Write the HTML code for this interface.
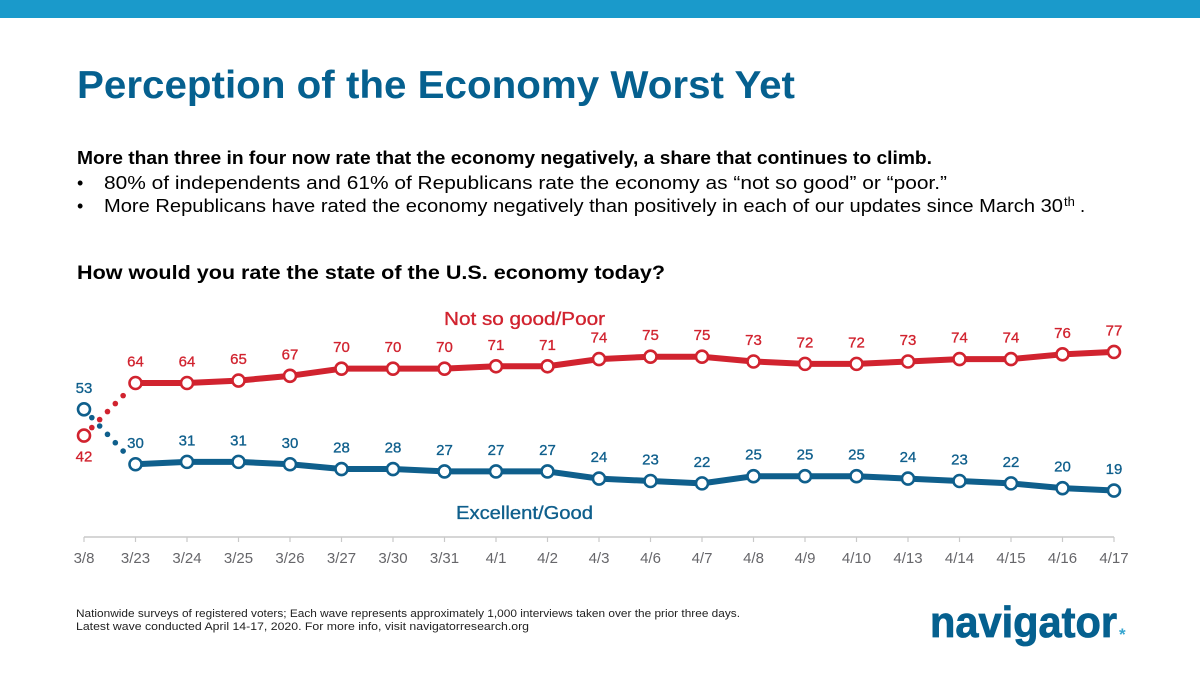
<!DOCTYPE html>
<html lang="en">
<head>
<meta charset="utf-8">
<title>Perception of the Economy Worst Yet</title>
<style>
html,body{margin:0;padding:0;background:#fff;width:1200px;height:674px;overflow:hidden}
svg{display:block}
text{font-family:"Liberation Sans",sans-serif}
</style>
</head>
<body>
<svg id="slide" xmlns="http://www.w3.org/2000/svg" width="1200" height="674" viewBox="0 0 1200 674">
  <rect x="0" y="0" width="1200" height="18" fill="#1a9acb"/>
  <text x="77" y="98" font-size="39" font-weight="700" fill="#05608f" textLength="718" lengthAdjust="spacingAndGlyphs">Perception of the Economy Worst Yet</text>
  <text x="77" y="164" font-size="18.5" font-weight="700" fill="#000" textLength="855" lengthAdjust="spacingAndGlyphs">More than three in four now rate that the economy negatively, a share that continues to climb.</text>
  <text x="77" y="189" font-size="18" fill="#000">•</text>
  <text x="104" y="189" font-size="18.5" fill="#000" textLength="843" lengthAdjust="spacingAndGlyphs">80% of independents and 61% of Republicans rate the economy as “not so good” or “poor.”</text>
  <text x="77" y="212" font-size="18" fill="#000">•</text>
  <text x="104" y="212" font-size="18.5" fill="#000" textLength="959" lengthAdjust="spacingAndGlyphs">More Republicans have rated the economy negatively than positively in each of our updates since March 30</text>
  <text x="1064" y="206" font-size="13" fill="#000">th</text>
  <text x="1080" y="212" font-size="18.5" fill="#000">.</text>
  <text x="77" y="279" font-size="19.5" font-weight="700" fill="#000" textLength="588" lengthAdjust="spacingAndGlyphs">How would you rate the state of the U.S. economy today?</text>

  <g id="chart"></g>

  <text x="444" y="325" font-size="18.5" fill="#d1232f" stroke="#d1232f" stroke-width="0.35" textLength="161" lengthAdjust="spacingAndGlyphs">Not so good/Poor</text>
  <text x="456" y="519" font-size="18.5" fill="#0f5f8c" stroke="#0f5f8c" stroke-width="0.35" textLength="137" lengthAdjust="spacingAndGlyphs">Excellent/Good</text>

  <text x="76" y="617" font-size="11.3" fill="#222" textLength="664" lengthAdjust="spacingAndGlyphs">Nationwide surveys of registered voters; Each wave represents approximately 1,000 interviews taken over the prior three days.</text>
  <text x="76" y="630" font-size="11.3" fill="#222" textLength="453" lengthAdjust="spacingAndGlyphs">Latest wave conducted April 14-17, 2020. For more info, visit navigatorresearch.org</text>

  <text x="930" y="637" font-size="44" font-weight="700" fill="#05608f" stroke="#05608f" stroke-width="0.8" textLength="187" lengthAdjust="spacingAndGlyphs">navigator</text>
  <text x="1119" y="640" font-size="17" font-weight="700" fill="#35a5d0">*</text>
</svg>
<script>
var categories = ["3/8","3/23","3/24","3/25","3/26","3/27","3/30","3/31","4/1","4/2","4/3","4/6","4/7","4/8","4/9","4/10","4/13","4/14","4/15","4/16","4/17"];
var notSoGoodPoor = [42,64,64,65,67,70,70,70,71,71,74,75,75,73,72,72,73,74,74,76,77];
var excellentGood = [53,30,31,31,30,28,28,27,27,27,24,23,22,25,25,25,24,23,22,20,19];

var NS = 'http://www.w3.org/2000/svg';
var chart = document.getElementById('chart');
var RED = '#d1232f';
var BLUE = '#0f5f8c';
var AXIS_Y = 537;

function xScale(i) {
  return 84 + i * (1114 - 84) / (categories.length - 1);
}
function yScale(v) {
  return 383 - (v - 64) * 2.39;
}
function make(tag, attrs, parent) {
  var el = document.createElementNS(NS, tag);
  for (var k in attrs) {
    el.setAttribute(k, attrs[k]);
  }
  (parent || chart).appendChild(el);
  return el;
}

// x axis
var axisLine = make('line', {x1: xScale(0), x2: xScale(categories.length - 1), y1: AXIS_Y, y2: AXIS_Y, stroke: '#c9c9c9', 'stroke-width': 1.6});


categories.forEach(function (c, i) {
  var tick = make('line', {x1: xScale(i), x2: xScale(i), y1: AXIS_Y, y2: AXIS_Y + 5, stroke: '#c9c9c9', 'stroke-width': 1.2});
  
  
  var label = make('text', {x: xScale(i), y: 563, 'text-anchor': 'middle', 'font-size': 15, fill: '#66666a'});
  
  
  label.textContent = c;
});

function drawSeries(values, color, key, firstLabelBelow) {
  // dotted connector from the first wave to the second
  var x0 = xScale(0), y0 = yScale(values[0]);
  var x1 = xScale(1), y1 = yScale(values[1]);
  for (var d = 1; d <= 5; d++) {
    var t = d * 0.152;
    var dot = make('circle', {cx: x0 + (x1 - x0) * t, cy: y0 + (y1 - y0) * t, r: 2.8, fill: color});
    
    
  }
  // solid line from the second wave on
  var pts = values.slice(1).map(function (v, i) {
    return xScale(i + 1) + ',' + yScale(v);
  }).join(' ');
  var line = make('polyline', {points: pts, fill: 'none', stroke: color, 'stroke-width': 6, 'stroke-linejoin': 'round'});
  
  
  values.forEach(function (v, i) {
    var marker = make('circle', {cx: xScale(i), cy: yScale(v), r: 6, fill: '#fff', stroke: color, 'stroke-width': 2.6});
    
    
    var below = firstLabelBelow && i === 0;
    var label = make('text', {x: xScale(i), y: yScale(v) + (below ? 26 : -16.5), 'text-anchor': 'middle', 'font-size': 15, fill: color, stroke: color, 'stroke-width': 0.3});
    
    
    label.textContent = v;
  });
}

drawSeries(notSoGoodPoor, RED, 'not-so-good-poor', true);
drawSeries(excellentGood, BLUE, 'excellent-good', false);
</script>
</body>
</html>
